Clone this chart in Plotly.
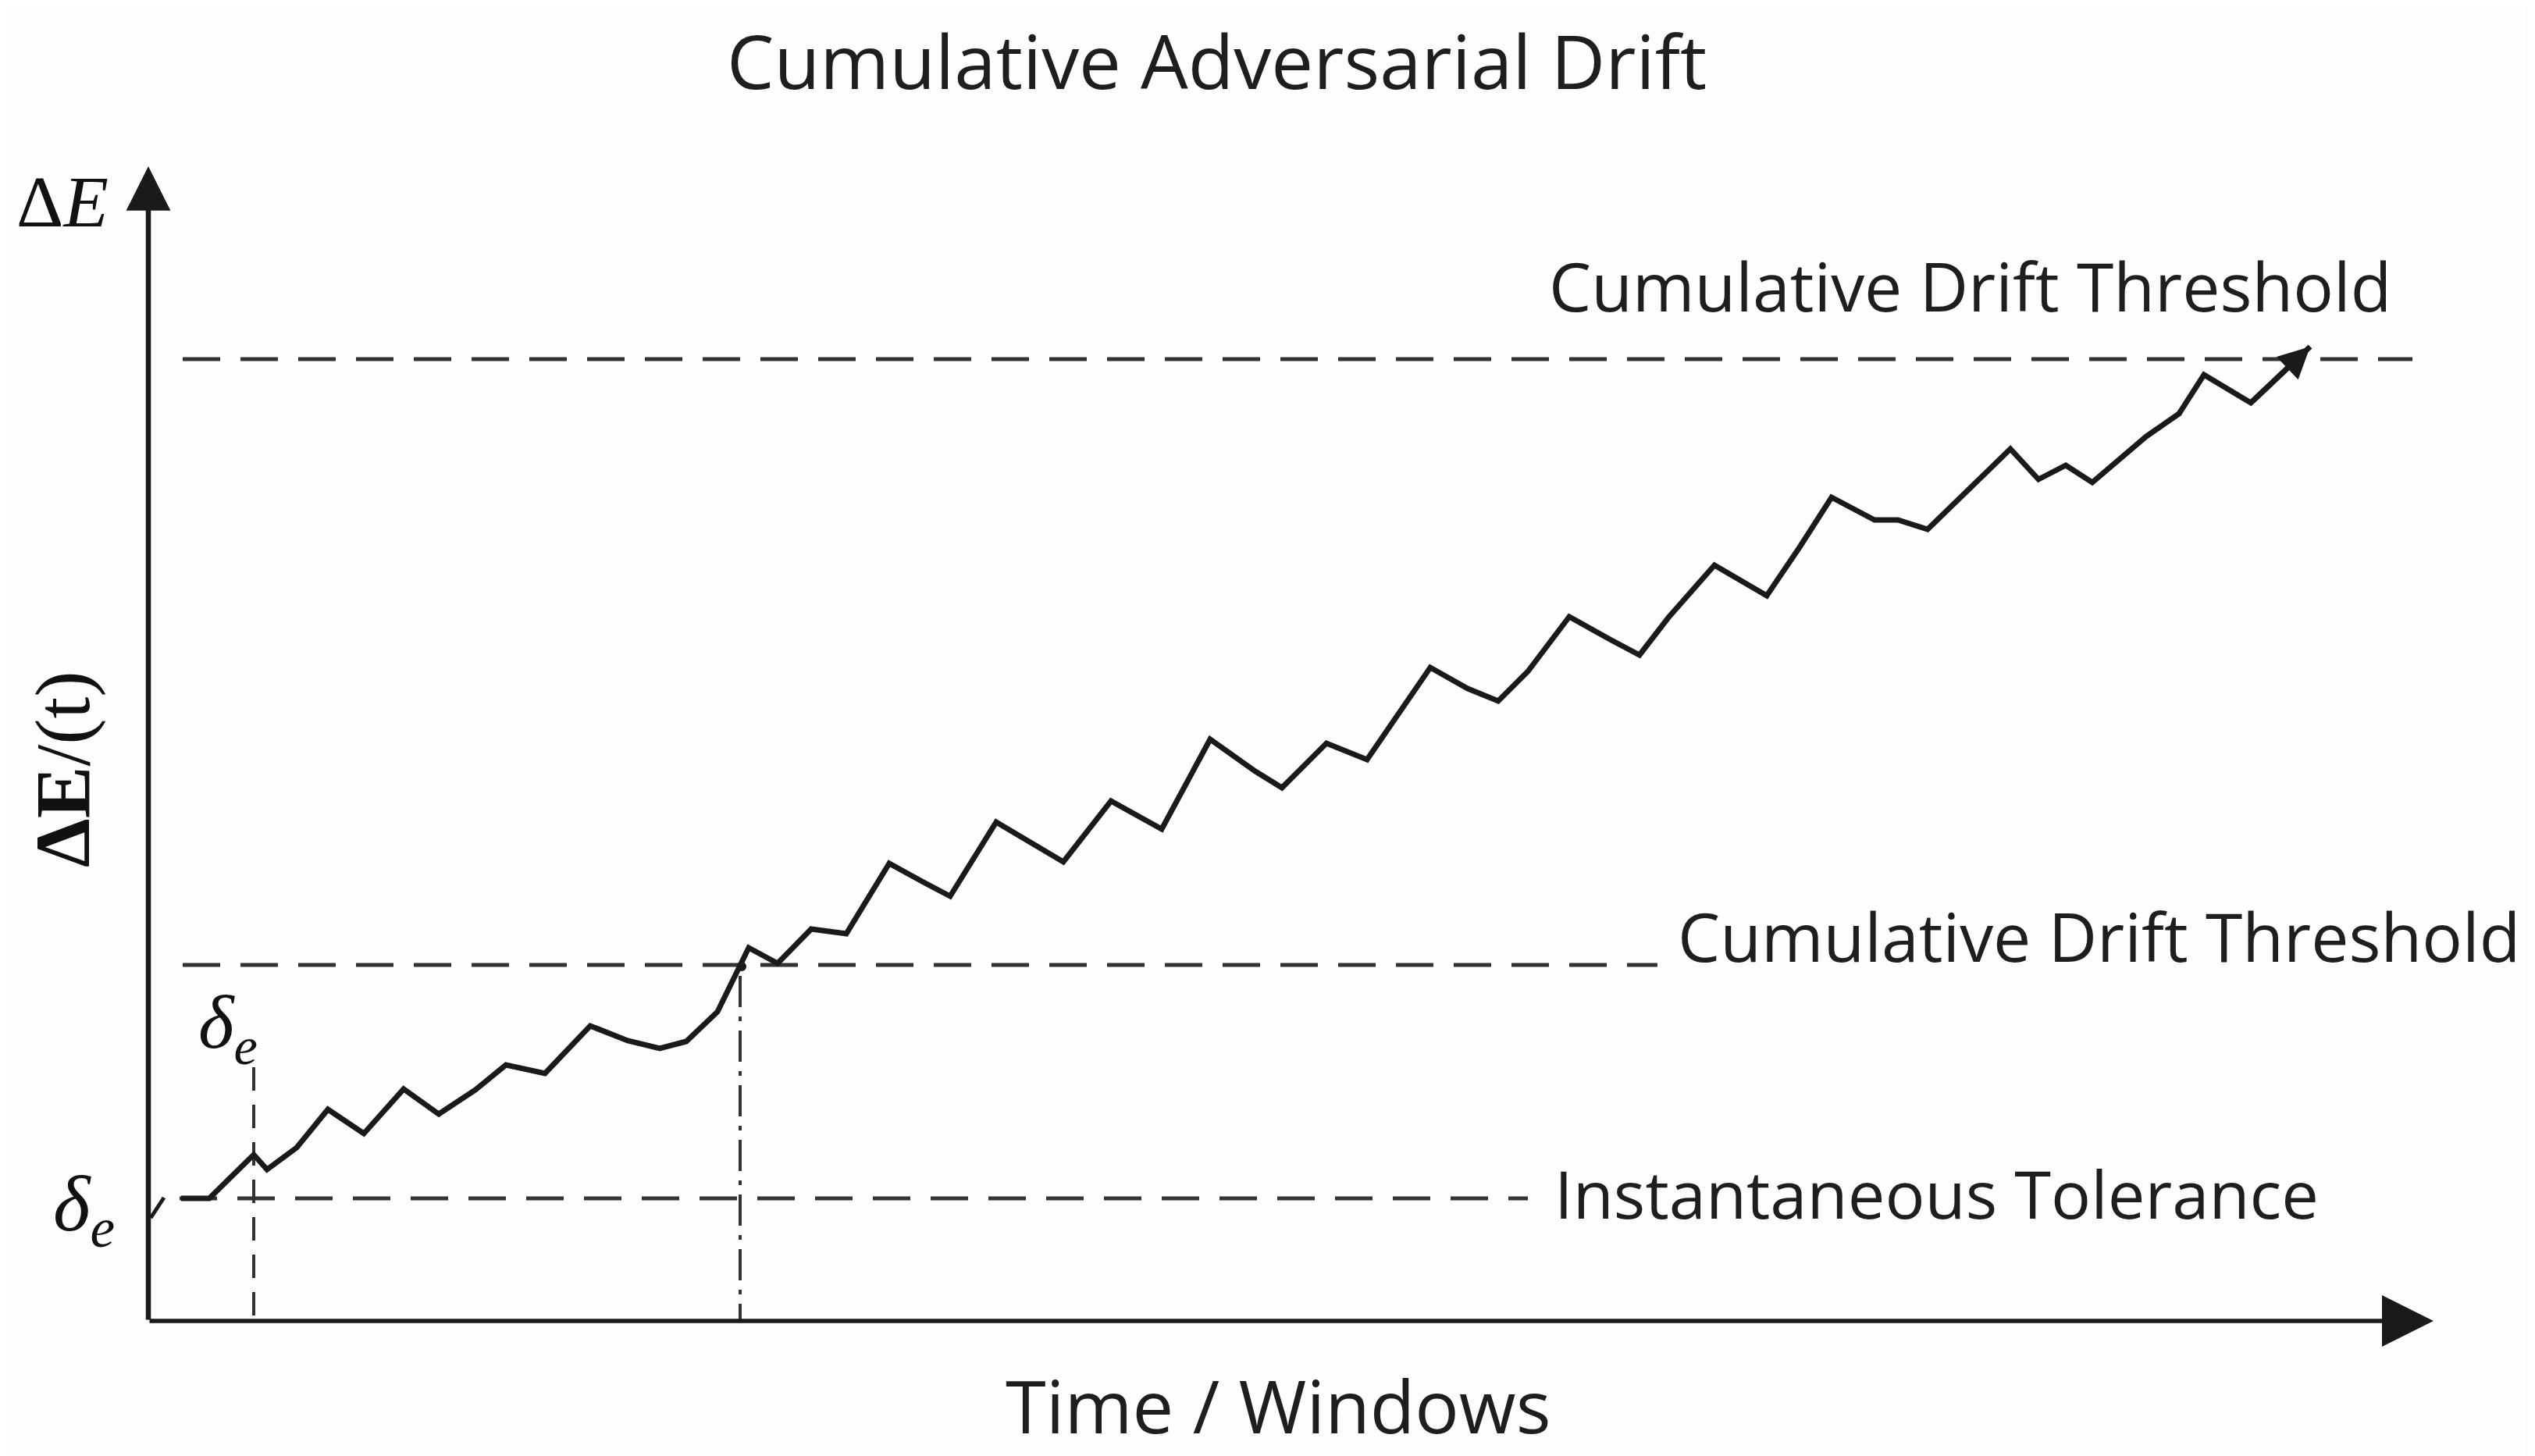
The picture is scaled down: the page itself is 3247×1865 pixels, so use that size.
import plotly.graph_objects as go

# ---------------- data ----------------
time_windows = [0.42, 0.78, 1.35, 1.52, 1.90, 2.30, 2.76, 3.27, 3.72, 4.19,
                4.58, 5.08, 5.66, 6.14, 6.55, 6.89, 7.29, 7.69, 8.06, 8.49,
                8.94, 9.49, 9.91, 10.27, 10.86, 11.34, 11.72, 12.33, 12.98, 13.60,
                14.18, 14.52, 15.09, 15.61, 16.42, 16.90, 17.29, 17.67, 18.20, 18.74,
                19.10, 19.47, 20.06, 20.73, 21.15, 21.56, 22.11, 22.41, 22.79, 23.85,
                24.21, 24.56, 24.90, 25.59, 26.01, 26.33, 26.93, 27.69]
delta_E = [1.57, 1.57, 2.13, 1.94, 2.22, 2.71, 2.40, 2.97, 2.65, 2.96,
           3.28, 3.17, 3.78, 3.59, 3.49, 3.58, 3.96, 4.78, 4.58, 5.02,
           4.96, 5.86, 5.63, 5.44, 6.39, 6.11, 5.88, 6.66, 6.30, 7.45,
           7.04, 6.83, 7.40, 7.19, 8.37, 8.10, 7.94, 8.32, 9.02, 8.72,
           8.53, 9.01, 9.68, 9.29, 9.91, 10.55, 10.26, 10.26, 10.14, 11.17,
           10.78, 10.96, 10.74, 11.33, 11.62, 12.12, 11.76, 12.48]
assert len(time_windows) == len(delta_E)

instant_tolerance = 1.57
cumulative_threshold_low = 4.56
cumulative_threshold_high = 12.32
first_exceed_t = 1.35
first_exceed_top = 3.25
crossing_t = 7.58
crossing_dot = (7.60, 4.54)
threshold_labels = ["Cumulative Drift Threshold", "Cumulative Drift Threshold",
                    "Instantaneous Tolerance"]

# ---------------- layout geometry ----------------
W, H = 3247, 1865
OFF = 8                       # page body margin
PL, PT, PR, PB = 190, 213, 3117, 1692   # plot box in reference pixels
L = PL - OFF
T = PT - OFF
R = W - PR + OFF
B = H - PB + OFF
PW = PR - PL
PH = PB - PT
X_MAX = PW / 100.0
Y_MAX = PH / 100.0


def px_x(px):
    return (px - PL) / 100.0


def px_y(py):
    return (PB - py) / 100.0


def paper_x(px):
    return (px - PL) / PW


def paper_y(py):
    return (PB - py) / PH


LINE_C = "#1a1a1a"
DASH_C = "#333333"
TEXT_C = "#1e1e1e"
SANS = "Open Sans"
SERIF = "Liberation Serif"

fig = go.Figure()

# threshold dashed lines
for yv, x0, x1 in [(cumulative_threshold_high, px_x(234), px_x(3090)),
                   (cumulative_threshold_low, px_x(234), px_x(2123)),
                   (instant_tolerance, px_x(230), px_x(1957))]:
    fig.add_trace(go.Scatter(x=[x0, x1], y=[yv, yv], mode="lines",
                             line=dict(color=DASH_C, width=5, dash="48px,26px"),
                             hoverinfo="skip", showlegend=False))

# vertical markers
fig.add_trace(go.Scatter(x=[first_exceed_t, first_exceed_t], y=[first_exceed_top, 0],
                         mode="lines", line=dict(color=DASH_C, width=4, dash="30px,18px"),
                         hoverinfo="skip", showlegend=False))
fig.add_trace(go.Scatter(x=[crossing_t, crossing_t], y=[cumulative_threshold_low - 0.14, 0],
                         mode="lines", line=dict(color=DASH_C, width=4, dash="40px,12px,6px,12px"),
                         hoverinfo="skip", showlegend=False))

# small start tick near origin
fig.add_trace(go.Scatter(x=[0.03, 0.20], y=[1.32, 1.58], mode="lines",
                         line=dict(color=LINE_C, width=5),
                         hoverinfo="skip", showlegend=False))

# drift line
fig.add_trace(go.Scatter(x=time_windows, y=delta_E, mode="lines",
                         line=dict(color=LINE_C, width=7),
                         hoverinfo="skip", showlegend=False))

# crossing dot
fig.add_trace(go.Scatter(x=[crossing_dot[0]], y=[crossing_dot[1]], mode="markers",
                         marker=dict(color=LINE_C, size=12),
                         hoverinfo="skip", showlegend=False))

ann = []
# axes arrows
ann.append(dict(x=0, y=Y_MAX, ax=0, ay=0, xref="x", yref="y", axref="x", ayref="y",
                text="", showarrow=True, arrowhead=2, arrowwidth=6.5, arrowsize=1.75,
                arrowcolor=LINE_C))
ann.append(dict(x=X_MAX, y=0, ax=0, ay=0, xref="x", yref="y", axref="x", ayref="y",
                text="", showarrow=True, arrowhead=2, arrowwidth=5.5, arrowsize=2.4,
                arrowcolor=LINE_C))
# drift end arrow
ann.append(dict(x=time_windows[-1], y=delta_E[-1], ax=time_windows[-2], ay=delta_E[-2],
                xref="x", yref="y", axref="x", ayref="y",
                text="", showarrow=True, arrowhead=2, arrowwidth=7, arrowsize=1.15,
                arrowcolor=LINE_C))


def txt(s, cx, cy, size, family=SANS, angle=0, color=TEXT_C):
    ann.append(dict(x=paper_x(cx), y=paper_y(cy), xref="paper", yref="paper", text=s,
                    showarrow=False, xanchor="center", yanchor="middle", textangle=angle,
                    font=dict(family=family, size=size, color=color)))


txt("Cumulative Adversarial Drift", 1558, 76, 96)
txt(threshold_labels[0], 2523, 365, 86)
txt(threshold_labels[1], 2688, 1198, 86)
txt(threshold_labels[2], 2480, 1528, 85)
txt("Time / Windows", 1637, 1800, 94)
txt("Δ<i>E</i>", 80, 258, 94, family=SERIF, color="#111111")
txt("<b>ΔE</b>/(t)", 81, 985, 100, family=SERIF, angle=-90, color="#111111")
txt("<i>δ<sub>e</sub></i>", 107, 1548, 102, family=SERIF, color="#111111")
txt("<i>δ<sub>e</sub></i>", 292, 1316, 98, family=SERIF, color="#111111")

fig.update_layout(
    width=W, height=H,
    margin=dict(l=L, r=R, t=T, b=B, pad=0),
    paper_bgcolor="#fdfdfd", plot_bgcolor="#fdfdfd",
    showlegend=False, hovermode=False,
    xaxis=dict(range=[0, X_MAX], visible=False, fixedrange=True),
    yaxis=dict(range=[0, Y_MAX], visible=False, fixedrange=True),
    annotations=ann,
)

fig.write_html("out.html")
